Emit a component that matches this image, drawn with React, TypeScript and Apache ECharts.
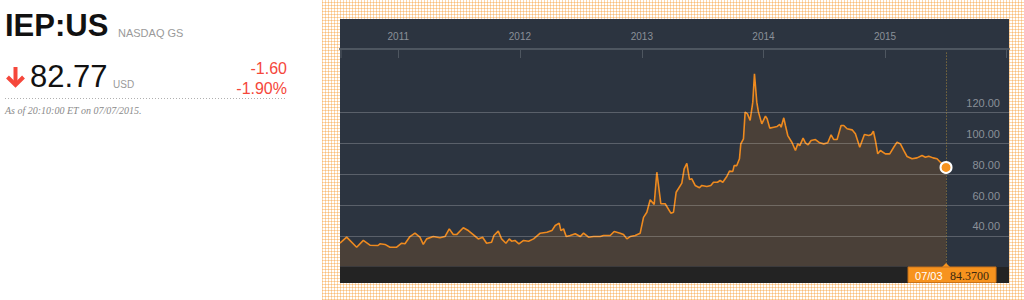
import React, { useEffect, useRef } from 'react';
import * as echarts from 'echarts';

const ticker = 'IEP:US';
const exchange = 'NASDAQ GS';
const lastTrade = '82.77';
const currency = 'USD';
const netChange = '-1.60';
const pctChange = '-1.90%';
const asOf = 'As of 20:10:00 ET on 07/07/2015.';

const xMin = '2010-07-10';
const xMax = '2016-01-08';
const yTicks = [40, 60, 80, 100, 120];

const dates = [
  '2010-07-10','2010-07-30','2010-08-29','2010-09-18','2010-10-08','2010-11-01','2010-11-07','2010-11-22','2010-12-07','2010-12-27',
  '2011-01-11','2011-01-21','2011-02-05','2011-02-20','2011-03-07','2011-03-17','2011-03-27','2011-04-16','2011-05-06','2011-05-21',
  '2011-06-03','2011-06-15','2011-06-25','2011-07-15','2011-07-30','2011-08-14','2011-08-29','2011-09-11','2011-09-23','2011-10-08',
  '2011-10-15','2011-10-28','2011-11-07','2011-11-20','2011-11-30','2011-12-07','2011-12-17','2011-12-29',
  '2012-01-12','2012-01-27','2012-02-11','2012-03-02','2012-03-22','2012-04-06','2012-04-16','2012-04-28','2012-05-03','2012-05-11',
  '2012-05-19','2012-05-31','2012-06-15','2012-06-30','2012-07-10','2012-07-25','2012-08-09','2012-08-29','2012-09-08','2012-09-28',
  '2012-10-10','2012-10-28','2012-11-07','2012-11-17','2012-11-27','2012-12-12','2012-12-27',
  '2013-01-06','2013-01-16','2013-01-26','2013-02-07','2013-02-15','2013-02-27','2013-03-12','2013-03-29','2013-04-06','2013-04-14',
  '2013-05-01','2013-05-08','2013-05-16','2013-05-24','2013-05-31','2013-06-10','2013-06-23','2013-06-30','2013-07-15','2013-07-27',
  '2013-08-04','2013-08-16','2013-08-24','2013-09-01','2013-09-13','2013-09-21','2013-10-01','2013-10-05','2013-10-13','2013-10-21',
  '2013-10-25','2013-11-02','2013-11-07','2013-11-14','2013-11-22','2013-11-30','2013-12-05','2013-12-12','2013-12-17','2013-12-27',
  '2014-01-07','2014-01-12','2014-01-20','2014-02-01','2014-02-11','2014-02-19','2014-02-23','2014-03-03','2014-03-08','2014-03-15',
  '2014-03-28','2014-04-07','2014-04-14','2014-04-20','2014-04-30','2014-05-07','2014-05-15','2014-05-24','2014-06-06','2014-06-19',
  '2014-07-01','2014-07-13','2014-07-23','2014-07-31','2014-08-10','2014-08-22','2014-08-30','2014-09-09','2014-09-24','2014-10-04',
  '2014-10-17','2014-10-31','2014-11-13','2014-11-21','2014-11-27','2014-12-03','2014-12-10','2014-12-18',
  '2015-01-02','2015-01-15','2015-01-27','2015-02-06','2015-02-16','2015-02-26','2015-03-08','2015-03-23','2015-04-07','2015-04-22',
  '2015-05-02','2015-05-12','2015-05-25','2015-06-06','2015-06-16','2015-07-03'
];

const prices = [
  35.2, 39.1, 32.6, 37.0, 33.9, 33.7, 34.8, 34.4, 32.6, 32.6,
  35.2, 34.8, 39.5, 41.7, 39.1, 34.4, 38.0, 39.5, 38.7, 39.5,
  44.5, 40.8, 40.8, 45.2, 43.4, 40.8, 38.0, 39.1, 35.2, 35.8,
  40.2, 43.0, 38.0, 35.2, 38.0, 36.5, 37.0, 34.8,
  37.0, 36.5, 38.0, 41.7, 42.3, 43.4, 46.7, 48.2, 43.4, 44.5,
  39.5, 40.2, 41.3, 39.5, 41.7, 39.1, 39.5, 39.5, 40.2, 40.2,
  42.8, 41.7, 40.8, 38.0, 39.5, 40.2, 41.7,
  52.0, 55.3, 63.4, 60.3, 81.3, 60.8, 60.8, 54.7, 55.3, 68.3,
  74.2, 83.5, 87.1, 76.6, 77.0, 72.7, 71.2, 72.7, 72.0, 72.7,
  74.8, 74.8, 75.9, 74.8, 78.5, 82.0, 81.8, 85.6, 85.6, 90.0,
  99.7, 103.0, 120.3, 119.2, 114.9, 126.8, 145.2, 126.8, 120.3, 112.7,
  117.7, 116.0, 109.9, 110.5, 111.0, 112.3, 110.5, 116.6, 111.6, 105.1,
  100.4, 95.4, 99.7, 98.6, 103.4, 100.4, 99.1, 101.9, 102.5, 100.4,
  99.7, 100.4, 105.6, 102.5, 102.5, 111.6, 111.6, 109.5, 108.8, 106.2,
  97.5, 105.8, 105.1, 105.8, 107.9, 101.9, 93.2, 95.4,
  93.2, 93.2, 97.5, 100.8, 99.7, 95.4, 91.5, 90.0, 90.6, 92.1,
  91.0, 91.7, 90.6, 90.0, 87.8, 84.37
];

const RED = '#f5473b';
const ORANGE = '#f7931e';
const SANS = '"Liberation Sans", Arial, sans-serif';
const SERIF = '"Liberation Serif", "Times New Roman", serif';
const YEAR_MS = 365 * 24 * 3600 * 1000;

export default function App() {
  const ref = useRef<HTMLDivElement>(null);

  useEffect(() => {
    if (!ref.current) return;
    const chart = echarts.init(ref.current, null, { renderer: 'svg' });
    const data = dates.map((d, i) => [d, prices[i]]);
    const lastDate = dates[dates.length - 1];
    const lastPrice = prices[prices.length - 1];
    const lastYear = Number(lastDate.slice(0, 4));

    const baseGraphic: any[] = [
      { type: 'rect', z: -10, shape: { x: 340, y: 19, width: 669, height: 248 }, style: { fill: '#2c3440' }, silent: true },
      { type: 'rect', z: -10, shape: { x: 340, y: 267, width: 669, height: 16 }, style: { fill: '#232323' }, silent: true },
      { type: 'line', z: 5, shape: { x1: 341, y1: 49, x2: 341, y2: 58 }, style: { stroke: '#4e5660', lineWidth: 1 } },
      { type: 'text', style: { text: ticker, x: 5, y: 25, font: `bold 31px ${SANS}`, fill: '#111', verticalAlign: 'middle' } },
      { type: 'text', style: { text: exchange, x: 118, y: 33, font: `11px ${SANS}`, fill: '#9a9a9a', verticalAlign: 'middle' } },
      { type: 'line', shape: { x1: 15.5, y1: 67, x2: 15.5, y2: 84 }, style: { stroke: RED, lineWidth: 4 } },
      { type: 'polyline', shape: { points: [[7.5, 77], [15.5, 85], [23.5, 77]] }, style: { stroke: RED, lineWidth: 4, fill: 'none' } },
      { type: 'text', style: { text: lastTrade, x: 30, y: 76, font: `31px ${SANS}`, fill: '#111', verticalAlign: 'middle' } },
      { type: 'text', style: { text: currency, x: 113, y: 84, font: `10px ${SANS}`, fill: '#9a9a9a', verticalAlign: 'middle' } },
      { type: 'text', style: { text: netChange, x: 287, y: 68, font: `16px ${SANS}`, fill: RED, align: 'right', verticalAlign: 'middle' } },
      { type: 'text', style: { text: pctChange, x: 287, y: 88, font: `16px ${SANS}`, fill: RED, align: 'right', verticalAlign: 'middle' } },
      { type: 'line', shape: { x1: 5, y1: 98.5, x2: 287, y2: 98.5 }, style: { stroke: '#b0b0b0', lineWidth: 1, lineDash: [1, 2] } },
      { type: 'text', style: { text: asOf, x: 5, y: 110.5, font: `italic 10px ${SERIF}`, fill: '#8a8a8a', verticalAlign: 'middle' } }
    ];

    const option: any = {
      animation: false,
      backgroundColor: 'transparent',
      grid: { left: 340, right: 15, top: 51, bottom: 33.4 },
      xAxis: {
        type: 'time',
        position: 'top',
        offset: 2,
        min: xMin,
        max: xMax,
        minInterval: YEAR_MS,
        maxInterval: YEAR_MS * 1.01,
        axisLine: { show: true, lineStyle: { color: '#4e5660', width: 2 } },
        axisTick: { show: true, inside: true, length: 9, lineStyle: { color: '#4e5660', width: 1 } },
        axisLabel: {
          color: '#8a9098',
          fontSize: 10,
          fontFamily: SANS,
          margin: 8,
          formatter: (v: number) => {
            const y = new Date(v).getFullYear();
            return y > lastYear ? '' : String(y);
          }
        },
        splitLine: { show: false }
      },
      yAxis: {
        type: 'value',
        position: 'right',
        min: 20,
        max: 160,
        interval: 20,
        axisLine: { show: false },
        axisTick: { show: false },
        splitLine: { show: false },
        axisLabel: {
          inside: true,
          margin: 9,
          color: '#8a9098',
          fontSize: 11,
          fontFamily: SANS,
          verticalAlign: 'bottom',
          padding: [0, 0, 4, 0],
          formatter: (v: number) => (yTicks.includes(v) ? v.toFixed(2) : '')
        }
      },
      series: [
        {
          type: 'line',
          data,
          symbol: 'none',
          lineStyle: { color: '#ee8a1f', width: 1.6 },
          areaStyle: { color: '#4a4038', opacity: 1 },
          markLine: {
            silent: true,
            symbol: ['none', 'none'],
            label: { show: false },
            data: [
              ...yTicks.map((v) => ({ yAxis: v, lineStyle: { color: 'rgba(255,255,255,0.22)', type: 'solid', width: 1 } })),
              { xAxis: lastDate, lineStyle: { color: '#a3843a', type: [1, 2], width: 1 } }
            ]
          },
          markPoint: {
            silent: true,
            symbol: 'circle',
            symbolSize: 11,
            itemStyle: { color: ORANGE, borderColor: '#ffffff', borderWidth: 2 },
            label: { show: false },
            data: [{ coord: [lastDate, lastPrice] }]
          }
        }
      ],
      graphic: baseGraphic
    };

    chart.setOption(option);

    const pt = chart.convertToPixel({ xAxisIndex: 0, yAxisIndex: 0 }, [lastDate, lastPrice]) as number[];
    const px = pt[0];
    const dateLabel = lastDate.slice(5, 7) + '/' + lastDate.slice(8, 10);
    const priceLabel = lastPrice.toFixed(4);
    const boxGraphic: any[] = [
      { type: 'polygon', z: 100, shape: { points: [[px - 4.5, 267.5], [px, 263], [px + 4.5, 267.5]] }, style: { fill: ORANGE } },
      { type: 'rect', z: 100, shape: { x: px - 38, y: 267, width: 88, height: 15.5 }, style: { fill: ORANGE, stroke: '#c9731a', lineWidth: 1 } },
      { type: 'text', z: 101, style: { text: dateLabel, x: px - 31, y: 275.5, font: `11px ${SANS}`, fill: '#ffffff', verticalAlign: 'middle' } },
      { type: 'text', z: 101, style: { text: priceLabel, x: px + 4, y: 275.5, font: `12px ${SERIF}`, fill: '#3a2810', verticalAlign: 'middle' } }
    ];
    chart.setOption({ graphic: [...baseGraphic, ...boxGraphic] });

    return () => chart.dispose();
  }, []);

  const hatch =
    'repeating-linear-gradient(90deg, rgba(246,150,40,0.38) 0px, rgba(246,150,40,0.38) 1px, rgba(255,255,255,0) 1px, rgba(255,255,255,0) 3px),' +
    'repeating-linear-gradient(0deg, rgba(246,150,40,0.38) 0px, rgba(246,150,40,0.38) 1px, rgba(255,255,255,0) 1px, rgba(255,255,255,0) 3px)';

  return (
    <div style={{ position: 'fixed', left: 0, top: 0, width: 1024, height: 300, background: '#ffffff' }}>
      <div style={{ position: 'absolute', left: 322, top: 0, width: 702, height: 300, backgroundColor: '#ffffff', backgroundImage: hatch }} />
      <div ref={ref} style={{ position: 'absolute', left: 0, top: 0, width: 1024, height: 300 }} />
    </div>
  );
}
